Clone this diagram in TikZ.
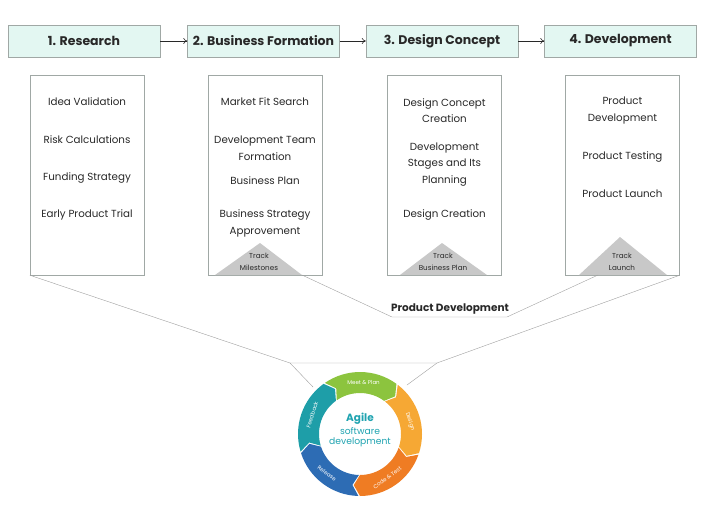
\documentclass[tikz,border=0pt]{standalone}
\usepackage{fontspec}
\setmainfont{Poppins}
\usetikzlibrary{arrows.meta,positioning,calc}
\definecolor{headMint}{RGB}{227,247,242}
\definecolor{edgeGray}{RGB}{160,168,165}
\definecolor{textDark}{RGB}{40,40,40}
\definecolor{trackGray}{RGB}{200,200,200}
\definecolor{agileTeal}{RGB}{31,163,176}
\definecolor{agileGreen}{RGB}{140,196,62}
\definecolor{agileYellow}{RGB}{246,168,52}
\definecolor{agileOrange}{RGB}{239,124,35}
\definecolor{agileBlue}{RGB}{45,108,180}
\definecolor{agileCyan}{RGB}{30,158,168}

\begin{document}
\begin{tikzpicture}[x=1pt,y=-1pt,
    head/.style={draw=edgeGray,fill=headMint,minimum width=152pt,minimum height=32pt,font=\fontsize{12.5}{14}\selectfont\bfseries,text=textDark},
    panel/.style={draw=edgeGray,minimum width=114pt,minimum height=200pt},
    item/.style={font=\fontsize{10.3}{16.5}\selectfont,text=textDark,align=center,inner sep=1pt},
    track/.style={font=\fontsize{7.2}{12.5}\selectfont,text=textDark,align=center,inner sep=1pt},
    arrow/.style={-{To[length=4pt,width=6pt]},semithick,textDark},
    funnel/.style={draw=gray!75,thin},
    seglabel/.style={font=\fontsize{5.5}{6}\selectfont,text=white,inner sep=0pt},
    centre/.style={text=agileTeal,inner sep=0pt}
  ]
  \useasboundingbox (0,0) rectangle (720,520);

  % phase headers
  \node[head] (h1) at (84,41) {1. Research};
  \node[head] (h2) at (263.5,41) {2. Business Formation};
  \node[head] (h3) at (442,41) {3. Design Concept};
  \node[head] (h4) at (620.5,41) {4. Development};
  \draw[arrow] (h1) -- (h2);
  \draw[arrow] (h2) -- (h3);
  \draw[arrow] (h3) -- (h4);

  % phase panels
  \node[panel] (c1) at (87,175) {};
  \node[panel] (c2) at (265,175) {};
  \node[panel] (c3) at (444.5,175) {};
  \node[panel] (c4) at (622.5,175) {};

  \node[item] (r1) at (87,102) {Idea Validation};
  \node[item] (r2) at (87,140) {Risk Calculations};
  \node[item] (r3) at (87,178) {Funding Strategy};
  \node[item] (r4) at (87,215) {Early Product Trial};

  \node[item] (b1) at (265,102) {Market Fit Search};
  \node[item] (b2) at (265,148) {Development Team\\Formation};
  \node[item] (b3) at (265,181) {Business Plan};
  \node[item] (b4) at (265,223.5) {Business Strategy\\Approvement};

  \node[item] (d1) at (444.5,110.5) {Design Concept\\Creation};
  \node[item] (d2) at (444.5,164.5) {Development\\Stages and Its\\Planning};
  \node[item] (d3) at (444.5,215) {Design Creation};

  \node[item] (p1) at (622.5,110.5) {Product\\Development};
  \node[item] (p2) at (622.5,157) {Product Testing};
  \node[item] (p3) at (622.5,194) {Product Launch};

  % tracking triangles
  \fill[trackGray] (215,275) -- (260,243) -- (302,275) -- cycle;
  \fill[trackGray] (400,275) -- (442,243) -- (487,275) -- cycle;
  \fill[trackGray] (579,275) -- (620,237) -- (667,275) -- cycle;
  \node[track] (t2) at (259,262) {Track\\Milestones};
  \node[track] (t3) at (443,262) {Track\\Business Plan};
  \node[track] (t4) at (622,262) {Track\\Launch};

  % funnel towards the cycle
  \coordinate (fl) at (290,363);
  \coordinate (fr) at (437,363);
  \coordinate (rl) at (313,387);
  \coordinate (rr) at (407,385);
  \draw[funnel] (c1.south west) -- (fl) -- (fr) -- (c4.south east);
  \draw[funnel] (fl) -- (rl);
  \draw[funnel] (fr) -- (rr);

  % product development bracket
  \coordinate (t2r) at (302,275);
  \coordinate (t4l) at (598,275);
  \coordinate (pd1) at (392,317);
  \coordinate (pd2) at (507,317);
  \draw[funnel] (t2r) -- (pd1) -- (pd2) -- (t4l);
  \node[font=\fontsize{10.5}{12}\selectfont\bfseries,text=textDark,inner sep=1pt] (pd) at (450,309) {Product Development};

  % agile cycle
  \begin{scope}[shift={(360,434)},y=1pt]
    \foreach \a/\b/\col/\lab/\rot [count=\i] in {126/54/agileGreen/Meet \& Plan/0,
        54/-18/agileYellow/Design/-72, -18/-90/agileOrange/Code \& Test/36,
        -90/-162/agileBlue/Release/-36, -162/-234/agileCyan/Feedback/72}{
      \fill[\col] ({\a-1.5}:62) arc[start angle=\a-1.5, end angle=\b, radius=62]
        -- ({\b-7}:51.5) -- (\b:41) arc[start angle=\b, end angle=\a-1.5, radius=41]
        -- ({\a-8.5}:51.5) -- cycle;
      \node[seglabel,rotate=\rot] (lab\i) at ({(\a+\b)/2-4}:51.5) {\lab};
    }
    \node[centre,font=\fontsize{10.5}{12}\selectfont\bfseries] (agile) at (0,15) {Agile};
    \node[centre,font=\fontsize{9.2}{10}\selectfont] (soft) at (0,3) {software};
    \node[centre,font=\fontsize{9.2}{10}\selectfont] (dev) at (0,-8) {development};
  \end{scope}
\end{tikzpicture}
\end{document}
